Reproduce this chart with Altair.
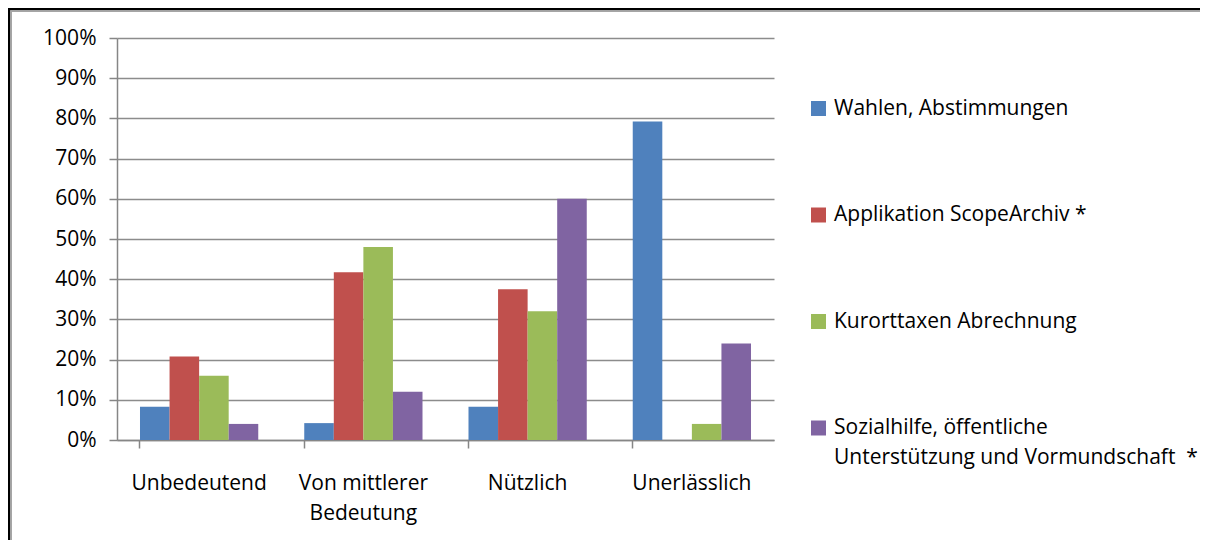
import altair as alt
import pandas as pd

categories = ["Unbedeutend", "Von mittlerer Bedeutung", "Nützlich", "Unerlässlich"]
series = [
    "Wahlen, Abstimmungen",
    "Applikation ScopeArchiv *",
    "Kurorttaxen Abrechnung",
    "Sozialhilfe, öffentliche Unterstützung und Vormundschaft *",
]
wahlen = [0.083, 0.042, 0.083, 0.792]
scope = [0.208, 0.417, 0.375, 0.0]
kurort = [0.16, 0.48, 0.32, 0.04]
sozial = [0.04, 0.12, 0.60, 0.24]
colors = ["#4F81BD", "#C0504D", "#9BBB59", "#8064A2"]
y_ticks = [0, 0.1, 0.2, 0.3, 0.4, 0.5, 0.6, 0.7, 0.8, 0.9, 1.0]

rows = []
for s, vals in zip(series, [wahlen, scope, kurort, sozial]):
    for c, v in zip(categories, vals):
        rows.append({"Kategorie": c, "Serie": s, "Wert": v})
df = pd.DataFrame(rows)

FONT = "Open Sans"
FS = 21
W, H = 657, 402

x_label_expr = (
    "datum.label == 'Von mittlerer Bedeutung' ? ['Von mittlerer', 'Bedeutung'] : datum.label"
)
legend_label_expr = (
    "datum.label == '" + series[3] + "' ? "
    "['Sozialhilfe, öffentliche', 'Unterstützung und Vormundschaft \u00a0*'] : datum.label"
)

bars = alt.Chart(df).mark_bar().encode(
    x=alt.X(
        "Kategorie:N",
        sort=categories,
        scale=alt.Scale(paddingInner=0.28, paddingOuter=0.14),
        axis=alt.Axis(
            title=None,
            labelAngle=0,
            labelExpr=x_label_expr,
            ticks=False,
            labelPadding=32,
            labelLineHeight=30,
            domain=False,
        ),
    ),
    xOffset=alt.XOffset("Serie:N", sort=series, scale=alt.Scale(paddingInner=0, paddingOuter=0)),
    y=alt.Y(
        "Wert:Q",
        scale=alt.Scale(domain=[0, 1], nice=False),
        axis=alt.Axis(
            title=None,
            values=y_ticks,
            format=".0%",
            tickSize=8,
            labelPadding=13,
            grid=True,
        ),
    ),
    color=alt.Color(
        "Serie:N",
        sort=series,
        scale=alt.Scale(domain=series, range=colors),
        legend=alt.Legend(
            title=None,
            orient="none",
            legendX=691,
            legendY=60,
            symbolType="square",
            symbolSize=225,
            symbolStrokeWidth=0,
            labelOffset=5,
            rowPadding=84.5,
            labelLimit=0,
            labelExpr=legend_label_expr,
        ),
    ),
)

ticks = alt.Chart(df).mark_tick(opacity=0).encode(
    x=alt.X(
        "Kategorie:N",
        sort=categories,
        axis=alt.Axis(
            title=None,
            labels=False,
            ticks=True,
            tickSize=8,
            bandPosition=0,
            domain=True,
            orient="bottom",
        ),
    ),
)

# decorative outer frame (top and left edges, as in the reference crop)
frame_top = alt.Chart(df).mark_rule(stroke="black", strokeWidth=2.5).encode(
    x=alt.value(-109), x2=alt.value(W + 450), y=alt.value(-28.7)
)
frame_left = alt.Chart(df).mark_rule(stroke="black", strokeWidth=2.5).encode(
    x=alt.value(-107.7), y=alt.value(-30), y2=alt.value(H + 150)
)
frame_top_in = alt.Chart(df).mark_rule(stroke="#a6a6a6", strokeWidth=1).encode(
    x=alt.value(-106.5), x2=alt.value(W + 450), y=alt.value(-26.8)
)
frame_left_in = alt.Chart(df).mark_rule(stroke="#a6a6a6", strokeWidth=1).encode(
    x=alt.value(-105.8), y=alt.value(-26.8), y2=alt.value(H + 150)
)

chart = (
    alt.layer(frame_top, frame_left, frame_top_in, frame_left_in, bars, ticks)
    .resolve_axis(x="independent")
    .properties(
        width=W,
        height=H,
        autosize=alt.AutoSizeParams(type="none"),
        padding={"left": 109, "top": 30, "right": 426, "bottom": 100},
    )
    .configure(
        view=alt.ViewConfig(stroke=None),
        axis=alt.AxisConfig(
            labelFont=FONT,
            labelFontSize=FS,
            labelColor="#000000",
            domainColor="#868686",
            domainWidth=1.5,
            tickColor="#868686",
            tickWidth=1.5,
            gridColor="#8c8c8c",
            gridWidth=1.3,
        ),
        legend=alt.LegendConfig(labelFont=FONT, labelFontSize=FS, labelColor="#000000"),
        style={"guide-label": {"lineHeight": 30}},
    )
)

chart.save("out.html", embed_options={"renderer": "svg", "actions": False})
